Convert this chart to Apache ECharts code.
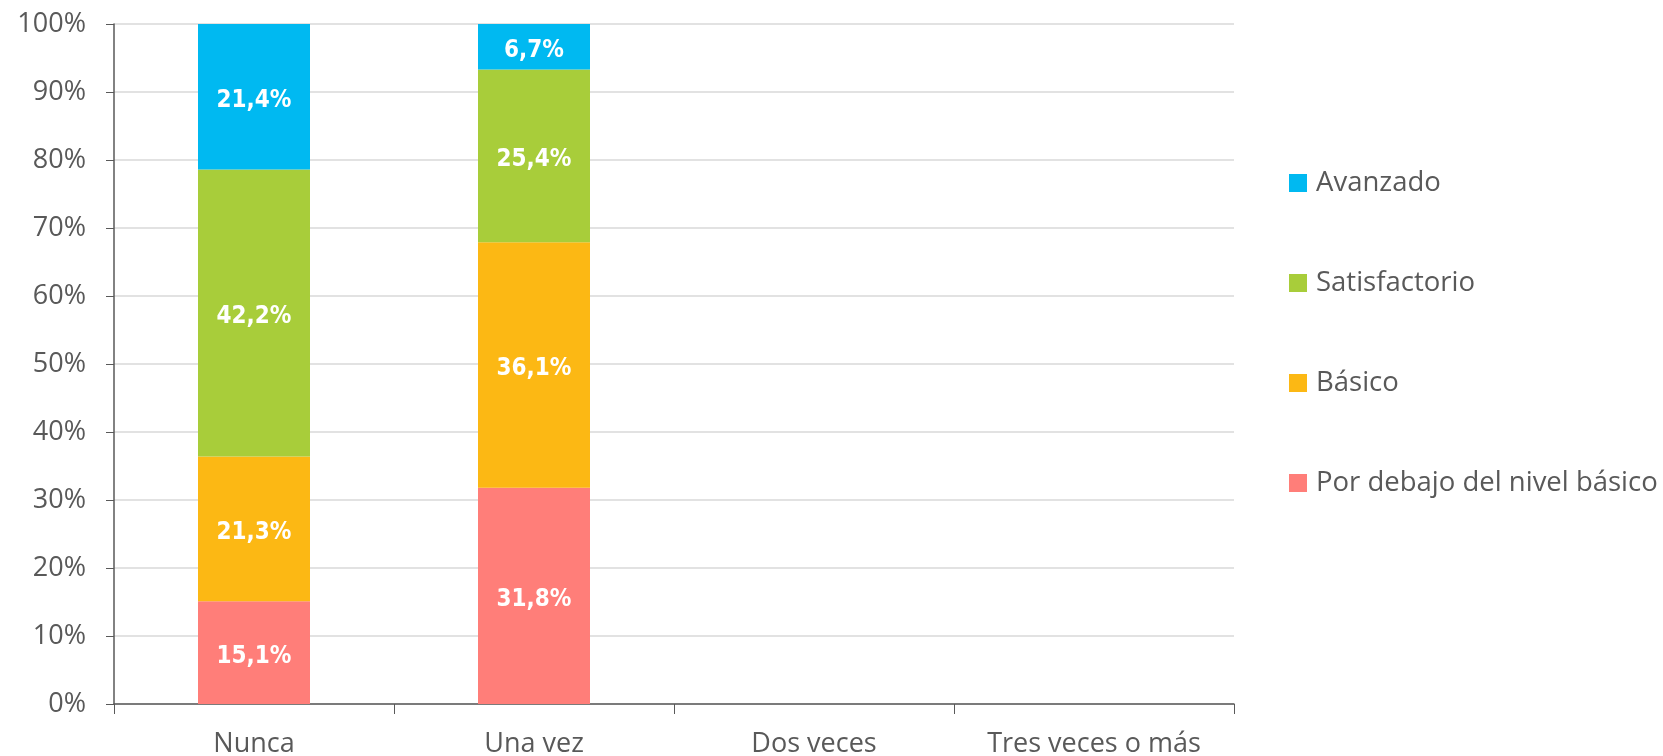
<!DOCTYPE html>
<html>
<head>
<meta charset="utf-8">
<script src="https://cdn.jsdelivr.net/npm/echarts@6/dist/echarts.min.js"></script>
<style>
  html, body { margin: 0; padding: 0; background: #fff; }
  #chart { width: 1663px; height: 756px; }
</style>
</head>
<body>
<div id="chart"></div>
<script>
var categories = ['Nunca', 'Una vez', 'Dos veces', 'Tres veces o más'];
var porDebajo = [15.1, 31.8, 0, 0];
var basico = [21.3, 36.1, 0, 0];
var satisfactorio = [42.2, 25.4, 0, 0];
var avanzado = [21.4, 6.7, 0, 0];
var legendOrder = ['Avanzado', 'Satisfactorio', 'Básico', 'Por debajo del nivel básico'];

var textColor = '#595959';
var mainFont = 'Open Sans';

function labelFmt(p) {
    if (!p.value) return '';
    return p.value.toFixed(1).replace('.', ',') + '%';
}

function makeSeries(name, data, color) {
    return {
        name: name,
        type: 'bar',
        stack: 'total',
        barWidth: '40%',
        data: data,
        itemStyle: {color: color},
        label: {
            show: true,
            position: 'inside',
            offset: [0, 4],
            color: '#fff',
            fontFamily: "'DejaVu Sans Condensed', 'Liberation Sans Narrow', Roboto, sans-serif",
            fontWeight: 'bold',
            fontSize: 24,
            formatter: labelFmt
        }
    };
}

var chart = echarts.init(document.getElementById('chart'));
var option = {
    animation: false,
    grid: {left: 114, right: 429, top: 24, bottom: 52, outerBoundsMode: 'none', containLabel: false},
    legend: {
        orient: 'vertical',
        left: 1289,
        top: 168,
        padding: 0,
        data: legendOrder,
        itemWidth: 18,
        itemHeight: 18,
        itemGap: 70,
        icon: 'rect',
        textStyle: {color: textColor, fontFamily: mainFont, fontSize: 27.5, lineHeight: 30, padding: [0, 0, 0, 4]}
    },
    xAxis: {
        type: 'category',
        data: categories,
        axisLine: {lineStyle: {color: textColor, width: 1.5}},
        axisTick: {show: true, length: 10, lineStyle: {color: textColor}},
        axisLabel: {color: textColor, fontFamily: mainFont, fontSize: 27, margin: 27}
    },
    yAxis: {
        type: 'value',
        min: 0,
        max: 100,
        interval: 10,
        axisLine: {show: true, lineStyle: {color: textColor, width: 1.5}},
        axisTick: {show: true, length: 8, lineStyle: {color: textColor}},
        splitLine: {lineStyle: {color: '#d9d9d9', width: 1.5}},
        axisLabel: {color: textColor, fontFamily: mainFont, fontSize: 27, margin: 28, formatter: '{value}%'}
    },
    series: [
        makeSeries('Por debajo del nivel básico', porDebajo, '#FF7E79'),
        makeSeries('Básico', basico, '#FCB814'),
        makeSeries('Satisfactorio', satisfactorio, '#A8CD3A'),
        makeSeries('Avanzado', avanzado, '#00B9F1')
    ]
};
chart.setOption(option);
</script>
</body>
</html>
